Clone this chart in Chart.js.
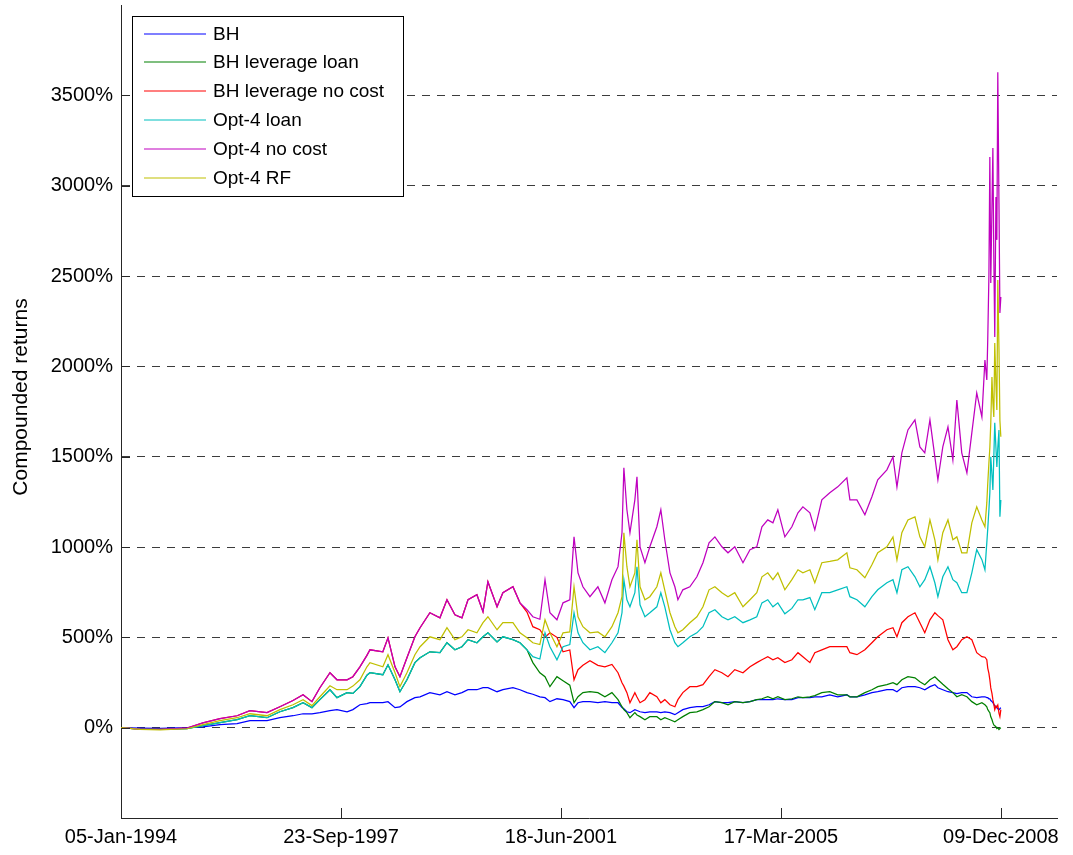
<!DOCTYPE html>
<html lang="en">
<head>
<meta charset="UTF-8" />
<title>Compounded returns</title>
<script src="https://cdn.jsdelivr.net/npm/chart.js@4.4.1/dist/chart.umd.min.js"></script>
<style>
  html, body { margin: 0; padding: 0; background: #fff; }
  canvas { display: block; }
</style>
</head>
<body>
<canvas id="returnsChart" width="1073" height="855"></canvas>
<script>
// observation number (trading days from 05-Jan-1994)
const dayIndex = [
  0, 81, 167, 282, 350, 423, 496, 551, 624, 679,
  735, 778, 816, 850, 893, 923, 966, 991, 1021, 1051,
  1064, 1119, 1141, 1171, 1192, 1222, 1256, 1278, 1320, 1363,
  1393, 1427, 1457, 1483, 1521, 1547, 1568, 1607, 1632, 1675,
  1705, 1735, 1760, 1790, 1812, 1833, 1863, 1889, 1918, 1936,
  1953, 1974, 2004, 2038, 2068, 2098, 2124, 2141, 2149, 2162,
  2175, 2196, 2205, 2218, 2239, 2260, 2290, 2307, 2324, 2346,
  2367, 2380, 2401, 2431, 2461, 2487, 2513, 2538, 2568, 2594,
  2623, 2658, 2688, 2717, 2739, 2764, 2786, 2807, 2837, 2867,
  2893, 2914, 2944, 2965, 2995, 3029, 3063, 3102, 3115, 3145,
  3179, 3209, 3234, 3273, 3299, 3316, 3337, 3363, 3393, 3414,
  3435, 3457, 3478, 3491, 3512, 3534, 3555, 3572, 3593, 3615,
  3636, 3657, 3679, 3692, 3700, 3704, 3709, 3713, 3717, 3722,
  3726, 3730, 3734, 3739, 3743, 3747, 3752, 3756, 3760
];
const tickDays = [0, 940, 1880, 2820, 3760];
const tickDates = ["05-Jan-1994", "23-Sep-1997", "18-Jun-2001", "17-Mar-2005", "09-Dec-2008"];
const yTicks = [0, 500, 1000, 1500, 2000, 2500, 3000, 3500];

// compounded returns in %
const bh = [
  0, -3, -4, 0, 5, 17, 22, 39, 39, 55,
  66, 77, 77, 83, 94, 100, 88, 100, 127, 133,
  138, 138, 144, 111, 115, 144, 166, 171, 194, 182,
  199, 182, 194, 210, 210, 221, 221, 199, 210, 221,
  210, 194, 185, 171, 166, 144, 160, 155, 144, 111,
  138, 144, 144, 138, 144, 138, 138, 111, 105, 88,
  83, 100, 95, 88, 83, 88, 88, 83, 88, 83,
  72, 83, 100, 111, 116, 116, 127, 144, 138, 138,
  144, 138, 144, 155, 155, 155, 155, 160, 155, 155,
  166, 166, 166, 171, 171, 182, 171, 182, 171, 171,
  182, 194, 199, 210, 210, 199, 221, 227, 227, 221,
  210, 227, 238, 221, 210, 199, 194, 188, 194, 194,
  171, 166, 171, 171, 166, 166, 160, 160, 150, 145,
  138, 130, 120, 116, 110, 105, 100, 105, 111
];
const bhLevLoan = [
  0, -8, -10, -5, 11, 28, 44, 66, 55, 88,
  111, 138, 111, 155, 210, 166, 194, 190, 227, 290,
  304, 293, 348, 265, 199, 265, 360, 387, 420, 415,
  470, 431, 448, 487, 470, 503, 525, 475, 503, 487,
  470, 431, 360, 304, 282, 227, 282, 260, 235, 138,
  171, 194, 199, 194, 171, 194, 155, 116, 100, 83,
  55, 83, 70, 61, 44, 61, 61, 44, 55, 44,
  33, 44, 61, 83, 88, 100, 116, 144, 138, 127,
  144, 138, 144, 155, 160, 171, 160, 171, 155, 160,
  171, 166, 171, 177, 194, 199, 182, 182, 171, 171,
  194, 210, 227, 238, 249, 238, 265, 282, 276, 254,
  238, 265, 282, 265, 240, 215, 194, 171, 182, 171,
  144, 127, 138, 127, 116, 100, 90, 83, 60, 45,
  28, 15, 10, 5, -5, 0, -10, -5, 0
];
const bhLevNoCost = [
  0, -8, -10, -3, 27, 50, 66, 94, 83, 116,
  150, 182, 144, 221, 304, 265, 265, 282, 337, 400,
  431, 420, 497, 337, 282, 387, 503, 553, 636, 608,
  708, 625, 608, 708, 736, 642, 808, 669, 747, 780,
  691, 640, 559, 542, 500, 525, 500, 420, 430, 265,
  321, 345, 370, 345, 337, 350, 304, 249, 230, 194,
  138, 194, 170, 138, 155, 194, 171, 138, 155, 127,
  116, 155, 194, 227, 227, 238, 282, 321, 304, 282,
  321, 304, 337, 360, 376, 393, 376, 387, 360, 376,
  415, 393, 360, 415, 431, 448, 448, 448, 415, 404,
  431, 470, 503, 542, 553, 503, 581, 614, 636, 581,
  525, 597, 636, 620, 597, 487, 431, 448, 487, 503,
  487, 415, 393, 390, 376, 330, 300, 265, 220, 190,
  155, 130, 100, 120, 115, 125, 80, 61, 100
];
const opt4Loan = [
  0, -8, -10, -5, 11, 28, 44, 66, 55, 88,
  111, 138, 111, 155, 210, 166, 194, 190, 227, 290,
  304, 293, 348, 265, 199, 265, 360, 387, 420, 415,
  470, 431, 448, 487, 470, 503, 525, 475, 503, 487,
  470, 431, 393, 380, 525, 448, 376, 448, 460, 636,
  525, 470, 431, 448, 415, 470, 525, 636, 819, 708,
  669, 747, 891, 680, 614, 636, 669, 747, 669, 542,
  470, 448, 470, 503, 525, 559, 636, 653, 614, 597,
  614, 581, 597, 614, 691, 708, 669, 691, 630, 660,
  708, 708, 720, 653, 747, 747, 763, 780, 725, 708,
  669, 725, 763, 802, 819, 747, 874, 891, 835, 780,
  819, 891, 802, 725, 835, 891, 819, 802, 747, 747,
  857, 985, 930, 874, 1023, 1100, 1206, 1300, 1499, 1400,
  1316, 1500, 1687, 1550, 1443, 1550, 1648, 1167, 1261
];
const opt4NoCost = [
  0, -8, -10, -3, 27, 50, 66, 94, 83, 116,
  150, 182, 144, 221, 304, 265, 265, 282, 337, 400,
  431, 420, 497, 337, 282, 387, 503, 553, 636, 608,
  708, 625, 608, 708, 736, 642, 808, 669, 747, 780,
  691, 653, 614, 600, 819, 636, 597, 691, 708, 1056,
  857, 780, 725, 780, 691, 819, 891, 1079, 1438, 1206,
  1079, 1261, 1388, 1001, 913, 1001, 1112, 1206, 1040, 857,
  780, 708, 763, 780, 835, 913, 1023, 1056, 1001, 968,
  1001, 913, 985, 1001, 1112, 1150, 1134, 1206, 1056, 1112,
  1189, 1222, 1189, 1095, 1261, 1300, 1333, 1383, 1261, 1261,
  1178, 1278, 1372, 1427, 1499, 1333, 1521, 1648, 1704, 1554,
  1521, 1704, 1499, 1372, 1554, 1665, 1482, 1814, 1521, 1410,
  1632, 1853, 1720, 2035, 1925, 2146, 2500, 3158, 2461, 2882,
  3208, 2605, 2163, 2937, 2700, 3628, 2904, 2295, 2384
];
const opt4Rf = [
  0, -10, -12, -6, 17, 39, 55, 77, 66, 100,
  127, 155, 122, 171, 232, 210, 210, 230, 265, 337,
  360, 337, 404, 304, 227, 304, 404, 448, 503, 487,
  553, 487, 503, 542, 525, 581, 614, 542, 581, 581,
  525, 498, 470, 460, 597, 525, 448, 525, 530, 780,
  614, 559, 525, 530, 503, 559, 636, 725, 1079, 891,
  780, 857, 1040, 780, 708, 725, 780, 857, 760, 636,
  559, 525, 542, 581, 614, 669, 763, 780, 747, 725,
  747, 669, 708, 747, 835, 857, 819, 857, 763, 819,
  874, 857, 874, 802, 913, 920, 929, 968, 885, 874,
  830, 902, 968, 1001, 1056, 929, 1079, 1150, 1167, 1056,
  1001, 1150, 1040, 929, 1079, 1150, 1040, 1056, 968, 968,
  1134, 1222, 1150, 1112, 1244, 1350, 1465, 1550, 1687, 1941,
  1800, 1720, 2129, 1900, 1759, 2478, 2100, 1700, 1610
];

const seriesNames = ["BH", "BH leverage loan", "BH leverage no cost", "Opt-4 loan", "Opt-4 no cost", "Opt-4 RF"];
const seriesValues = [bh, bhLevLoan, bhLevNoCost, opt4Loan, opt4NoCost, opt4Rf];
const seriesColors = ["#0000ff", "#008000", "#ff0000", "#00bfbf", "#bf00bf", "#bfbf00"];

const FONT = "'Liberation Sans', Arial, sans-serif";
const AXIS_COLOR = "#262626";

// inward tick marks, y label and the boxed legend inside the axes
const matlabDecor = {
  id: "matlabDecor",
  afterDraw(chart) {
    const {ctx, chartArea: area, scales: {x, y}} = chart;
    ctx.save();
    ctx.strokeStyle = AXIS_COLOR;
    ctx.lineWidth = 1;
    ctx.beginPath();
    tickDays.slice(1).forEach((v) => {
      const px = Math.round(x.getPixelForValue(v)) + 0.5;
      ctx.moveTo(px, area.bottom);
      ctx.lineTo(px, area.bottom - 10);
    });
    yTicks.forEach((v) => {
      const py = Math.round(y.getPixelForValue(v)) + 0.5;
      ctx.moveTo(area.left, py);
      ctx.lineTo(area.left + 9, py);
    });
    ctx.stroke();

    // y axis title
    ctx.save();
    ctx.translate(21, 397);
    ctx.rotate(-Math.PI / 2);
    ctx.fillStyle = "#000";
    ctx.font = "21px " + FONT;
    ctx.textAlign = "center";
    ctx.textBaseline = "middle";
    ctx.fillText("Compounded returns", 0, 0);
    ctx.restore();

    // legend
    const lx = 132, ly = 16;
    ctx.fillStyle = "#fff";
    ctx.fillRect(lx, ly, 271, 180);
    ctx.strokeStyle = "#000";
    ctx.strokeRect(lx + 0.5, ly + 0.5, 271, 180);
    ctx.font = "19px " + FONT;
    ctx.textBaseline = "middle";
    ctx.textAlign = "left";
    chart.data.datasets.forEach((ds, i) => {
      const ry = Math.round(ly + 17.5 + i * 28.8);
      ctx.strokeStyle = ds.borderColor;
      ctx.lineWidth = 1.2;
      ctx.beginPath();
      ctx.moveTo(lx + 12, ry);
      ctx.lineTo(lx + 74, ry);
      ctx.stroke();
      ctx.fillStyle = "#000";
      ctx.fillText(ds.label, lx + 81, ry + 1);
    });
    ctx.restore();
  }
};

const ctx = document.getElementById("returnsChart").getContext("2d");
const returnsChart = new Chart(ctx, {
  type: "line",
  data: {
    datasets: seriesNames.map((name, i) => ({
      label: name,
      data: dayIndex.map((d, k) => ({x: d, y: seriesValues[i][k]})),
      borderColor: seriesColors[i],
      backgroundColor: seriesColors[i],
      borderWidth: 1.25,
      pointRadius: 0,
      tension: 0,
      fill: false,
      order: seriesNames.length - i, // later series drawn on top, like plot()
    })),
  },
  options: {
    responsive: false,
    animation: false,
    devicePixelRatio: 1,
    layout: {padding: {top: 5, right: 16, left: 0, bottom: 0}},
    plugins: {legend: {display: false}, tooltip: {enabled: false}},
    scales: {
      x: {
        type: "linear",
        min: 0,
        max: 4000,
        afterBuildTicks: (scale) => {
          scale.ticks = tickDays.map((v) => ({value: v}));
        },
        afterFit: (scale) => {
          scale.height = 37;
          scale.paddingLeft = 0;
          scale.paddingRight = 0;
        },
        grid: {display: false, drawTicks: false},
        border: {display: true, color: AXIS_COLOR, width: 1},
        ticks: {
          padding: 7,
          color: "#000",
          maxRotation: 0,
          autoSkip: false,
          font: {family: FONT, size: 20},
          callback: (v) => tickDates[tickDays.indexOf(v)],
        },
      },
      y: {
        min: -500,
        max: 4000,
        afterBuildTicks: (scale) => {
          scale.ticks = yTicks.map((v) => ({value: v}));
        },
        afterFit: (scale) => {
          scale.width = 121;
          scale.paddingTop = 0;
          scale.paddingBottom = 0;
        },
        grid: {color: "#3c3c3c", lineWidth: 1, drawTicks: false},
        border: {display: true, color: AXIS_COLOR, width: 1, dash: [8, 7]},
        ticks: {
          padding: 8,
          color: "#000",
          font: {family: FONT, size: 20},
          callback: (v) => v + "%",
        },
      },
    },
  },
  plugins: [matlabDecor],
});
</script>
</body>
</html>
